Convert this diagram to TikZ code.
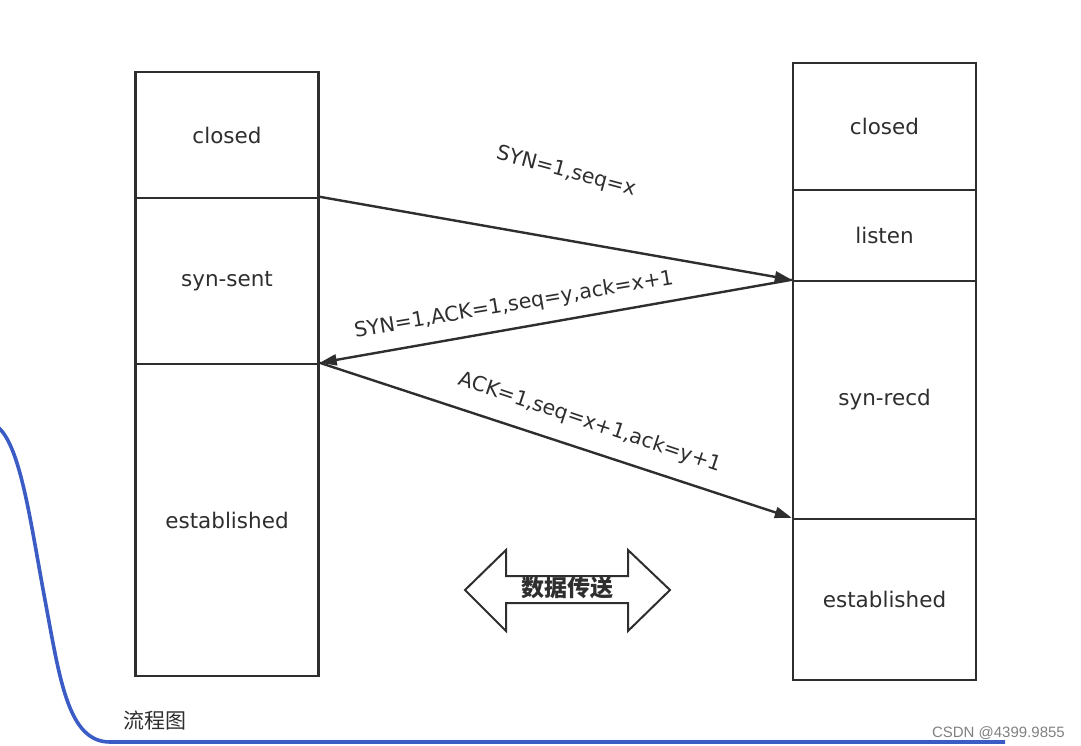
\documentclass[tikz,border=0pt]{standalone}
\usepackage{fontspec}
\setmainfont{DejaVu Sans}
\newfontfamily\cjk{Noto Sans CJK SC}
\newfontfamily\csdn{Liberation Sans}
\usetikzlibrary{arrows.meta}
\definecolor{ink}{HTML}{2E2E2E}
\definecolor{bluecurve}{HTML}{3B5CC4}
\begin{document}
\begin{tikzpicture}[x=1pt,y=-1pt,line width=2.4pt,
    box/.style={draw=ink,shape=rectangle,minimum width=183pt,inner sep=0pt,text=ink,font=\fontsize{21.5}{24}\selectfont},
    msg/.style={-{Triangle[length=17pt,width=11pt]},draw=ink},
    lbl/.style={text=ink,font=\fontsize{20.5}{23}\selectfont,inner sep=0pt}]
    \useasboundingbox (0,0) rectangle (1081,746);

    \node[box,minimum height=126pt] (l1) at (227,135) {closed};
    \node[box,minimum height=166pt] (l2) at (227,281) {syn-sent};
    \node[box,minimum height=312pt] (l3) at (227,520) {established};

    \node[box,minimum height=127pt] (r1) at (884.5,126.5) {closed};
    \node[box,minimum height=91pt] (r2) at (884.5,235.5) {listen};
    \node[box,minimum height=238pt] (r3) at (884.5,400) {syn-recd};
    \node[box,minimum height=161pt] (r4) at (884.5,599.5) {established};

    \draw[msg] (l2.north east) -- (r3.north west);
    \draw[msg] (r3.north west) -- (l3.north east);
    \draw[msg] (l3.north east) -- (r4.north west);

    \node[lbl,rotate=-15] (m1) at (566,172) {SYN=1,seq=x};
    \node[lbl,rotate=9.5] (m2) at (514,305) {SYN=1,ACK=1,seq=y,ack=x+1};
    \node[lbl,rotate=-18.5] (m3) at (590,423) {ACK=1,seq=x+1,ack=y+1};

    \draw[ink,line width=2pt,line join=miter] (465,590) -- (506,550) -- (506,576) -- (628,576) -- (628,550)
        -- (670,590) -- (628,631) -- (628,603) -- (506,603) -- (506,631) -- cycle;
    \node[text=ink,font=\cjk\bfseries\fontsize{23}{26}\selectfont,inner sep=0pt] (data) at (567,588) {数据传送};

    \draw[bluecurve,line width=3.6pt] (-5,425) .. controls (20,440) and (30,520) .. (45,600)
        .. controls (60,680) and (68,742) .. (110,742) -- (1005,742);
    \node[text=ink,font=\cjk\fontsize{21}{24}\selectfont,inner sep=0pt] (cap) at (155,721) {流程图};
    \node[text=gray,font=\csdn\fontsize{15}{18}\selectfont,inner sep=0pt,anchor=base east] (mark) at (1066,737) {CSDN @4399.9855};
\end{tikzpicture}
\end{document}
